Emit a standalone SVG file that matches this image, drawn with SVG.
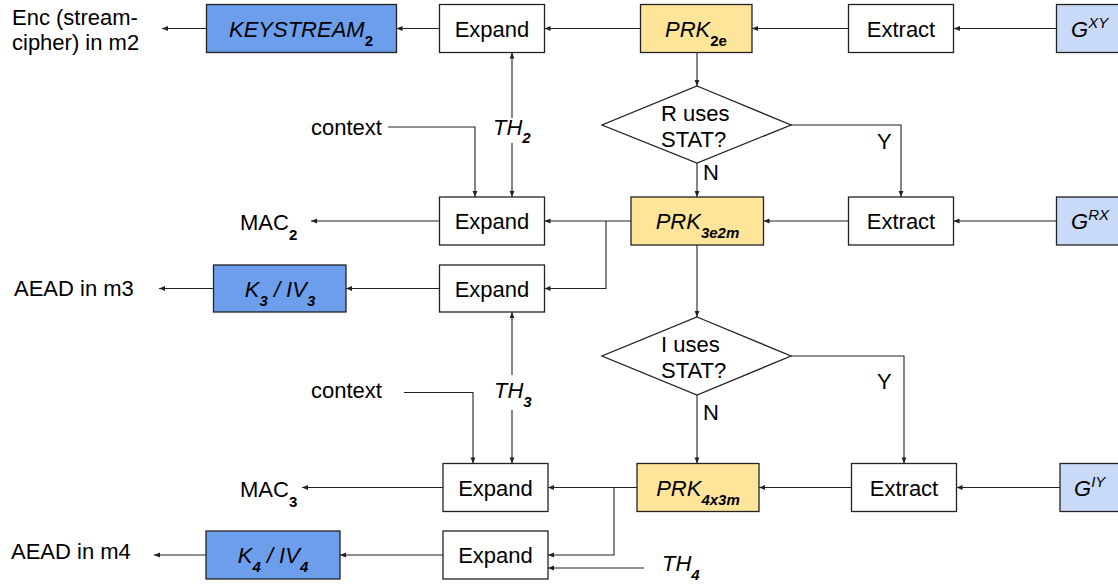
<svg xmlns="http://www.w3.org/2000/svg" width="1118" height="586" viewBox="0 0 1118 586">
<defs>
<marker id="ah" viewBox="0 0 10 10" refX="10" refY="5" markerWidth="7" markerHeight="6" orient="auto" markerUnits="userSpaceOnUse"><path d="M0,1 L10,5 L0,9 z" fill="#222"/></marker>
</defs>
<style>
text{font-family:"Liberation Sans",Arial,sans-serif;font-size:22px;fill:#000}
.box{stroke:#222;stroke-width:1.3}
.w{fill:#fff}.k{fill:#6d9eeb}.p{fill:#ffe599}.g{fill:#c9daf8}
.c{fill:none;stroke:#222;stroke-width:1.1;marker-end:url(#ah)}
.m{text-anchor:middle}
.i{font-style:italic}
.s{font-size:15px;font-weight:bold}
.u{font-style:normal}
.sp{font-size:15px}
</style>
<rect width="1118" height="586" fill="#fff"/>
<g id="connectors">
<path class="c" d="M1056.5,28.5 H954"/>
<path class="c" d="M848.5,28.5 H752"/>
<path class="c" d="M640.5,28.5 H544.5"/>
<path class="c" d="M439.5,28.5 H396.5"/>
<path class="c" d="M206.5,28.5 H162"/>
<path class="c" d="M697,52.5 V86"/>
<path class="c" d="M791,125 H901 V197"/>
<path class="c" d="M697,163 V197"/>
<path class="c" d="M512,118 V52.5"/>
<path class="c" d="M512,143 V197"/>
<path class="c" d="M388,127 H475 V197"/>
<path class="c" d="M1056.5,221 H953.5"/>
<path class="c" d="M848.5,221 H763.5"/>
<path class="c" d="M631,221 H544.5"/>
<path class="c" d="M606,221 V288.5 H544.5"/>
<path class="c" d="M439.5,221 H311"/>
<path class="c" d="M439.5,288.5 H346"/>
<path class="c" d="M213.5,288.5 H159"/>
<path class="c" d="M697,245 V317"/>
<path class="c" d="M791,356 H904 V463.5"/>
<path class="c" d="M697,395 V463.5"/>
<path class="c" d="M512,375 V312"/>
<path class="c" d="M512,410 V463.5"/>
<path class="c" d="M404,392.5 H473 V463.5"/>
<path class="c" d="M1060,487.5 H956.5"/>
<path class="c" d="M851.5,487.5 H759"/>
<path class="c" d="M637,487.5 H548"/>
<path class="c" d="M614,487.5 V555 H548"/>
<path class="c" d="M644,568 H548"/>
<path class="c" d="M443,487.5 H302"/>
<path class="c" d="M443,555 H340"/>
<path class="c" d="M206,555 H154"/>
</g>
<g id="enc-label"><text x="12" y="25">Enc (stream-</text><text x="12" y="50">cipher) in m2</text></g>
<g id="keystream2"><rect class="box k" x="206.5" y="4.5" width="190" height="48"/><text class="m i" x="301" y="36.5">KEYSTREAM<tspan class="s u" dy="9">2</tspan></text></g>
<g id="expand1"><rect class="box w" x="439.5" y="4.5" width="105" height="48"/><text class="m" x="492" y="36.5">Expand</text></g>
<g id="prk2e"><rect class="box p" x="640.5" y="4.5" width="111.5" height="48"/><text class="m i" x="696" y="36.5">PRK<tspan class="s u" dy="9">2e</tspan></text></g>
<g id="extract1"><rect class="box w" x="848.5" y="4.5" width="105" height="48"/><text class="m" x="901" y="36.5">Extract</text></g>
<g id="gxy"><rect class="box g" x="1056.5" y="4.5" width="70" height="48"/><text class="i" x="1071" y="36.5">G<tspan class="sp" dy="-9">XY</tspan></text></g>
<g id="decision1"><polygon class="box w" points="697,86 791,125 697,163 602,125"/><text x="661" y="121">R uses</text><text x="661" y="147">STAT?</text></g>
<g id="context1"><text x="311" y="135">context</text></g>
<g id="th2"><text class="i" x="493" y="135">TH<tspan class="s" dy="8">2</tspan></text></g>
<g id="y1"><text x="877" y="149">Y</text></g>
<g id="n1"><text x="703" y="180">N</text></g>
<g id="expand2"><rect class="box w" x="439.5" y="197" width="105" height="48"/><text class="m" x="492" y="229">Expand</text></g>
<g id="mac2"><text x="240" y="230">MAC<tspan class="s" dy="10">2</tspan></text></g>
<g id="expand-k3"><rect class="box w" x="439.5" y="265" width="105" height="47"/><text class="m" x="492" y="296.5">Expand</text></g>
<g id="k3iv3"><rect class="box k" x="213.5" y="265" width="132.5" height="47"/><text class="m i" x="280" y="296.5">K<tspan class="s" dy="9">3</tspan><tspan dy="-9"> / IV</tspan><tspan class="s" dy="9">3</tspan></text></g>
<g id="aead3"><text x="14" y="296">AEAD in m3</text></g>
<g id="prk3e2m"><rect class="box p" x="631" y="197" width="132.5" height="48"/><text class="m i" x="697.5" y="229">PRK<tspan class="s" dy="9">3e2m</tspan></text></g>
<g id="extract2"><rect class="box w" x="848.5" y="197" width="105" height="48"/><text class="m" x="901" y="229">Extract</text></g>
<g id="grx"><rect class="box g" x="1056.5" y="197" width="70" height="48"/><text class="i" x="1071" y="229">G<tspan class="sp" dy="-9">RX</tspan></text></g>
<g id="decision2"><polygon class="box w" points="697,317 791,356 697,395 602,356"/><text x="661" y="352">I uses</text><text x="661" y="378">STAT?</text></g>
<g id="context2"><text x="311" y="398">context</text></g>
<g id="th3"><text class="i" x="494" y="398">TH<tspan class="s" dy="9">3</tspan></text></g>
<g id="y2"><text x="877" y="389">Y</text></g>
<g id="n2"><text x="703" y="420">N</text></g>
<g id="expand3"><rect class="box w" x="443" y="463.5" width="105" height="48"/><text class="m" x="495.5" y="495.5">Expand</text></g>
<g id="mac3"><text x="240" y="497">MAC<tspan class="s" dy="10">3</tspan></text></g>
<g id="expand-k4"><rect class="box w" x="443" y="531" width="105" height="48"/><text class="m" x="495.5" y="563">Expand</text></g>
<g id="k4iv4"><rect class="box k" x="206" y="531" width="134" height="48"/><text class="m i" x="273" y="563">K<tspan class="s" dy="9">4</tspan><tspan dy="-9"> / IV</tspan><tspan class="s" dy="9">4</tspan></text></g>
<g id="aead4"><text x="11" y="559">AEAD in m4</text></g>
<g id="prk4x3m"><rect class="box p" x="637" y="463.5" width="122" height="48"/><text class="m i" x="698" y="495.5">PRK<tspan class="s" dy="9">4x3m</tspan></text></g>
<g id="extract3"><rect class="box w" x="851.5" y="463.5" width="105" height="48"/><text class="m" x="904" y="495.5">Extract</text></g>
<g id="giy"><rect class="box g" x="1060" y="463.5" width="66" height="48"/><text class="i" x="1074" y="495.5">G<tspan class="sp" dy="-9">IY</tspan></text></g>
<g id="th4"><text class="i" x="662" y="571">TH<tspan class="s" dy="9">4</tspan></text></g>
</svg>
